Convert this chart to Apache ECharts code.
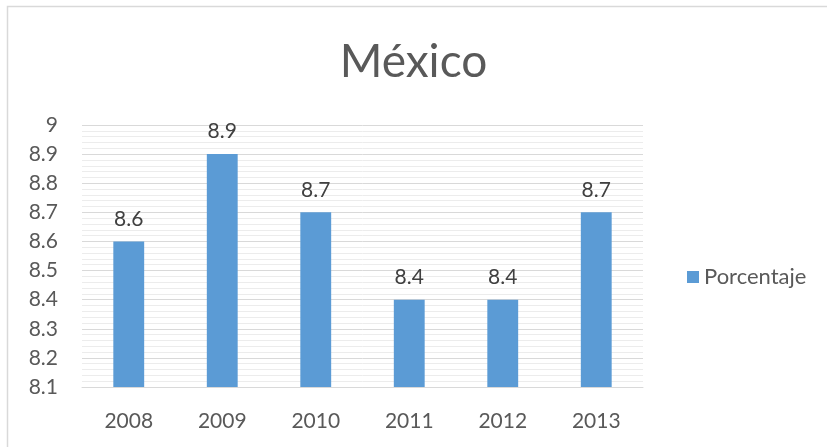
<!DOCTYPE html>
<html>
<head>
<meta charset="utf-8">
<script src="https://cdn.jsdelivr.net/npm/echarts@6/dist/echarts.min.js"></script>
<style>html,body{margin:0;padding:0;background:#fff}#c{width:827px;height:447px}</style>
</head>
<body>
<div id="c"></div>
<script>
const categories = ['2008', '2009', '2010', '2011', '2012', '2013'];
const values = [8.6, 8.9, 8.7, 8.4, 8.4, 8.7];
const seriesName = 'Porcentaje';
const titleText = 'México';

const chart = echarts.init(document.getElementById('c'));
const FONT = 'Lato';
chart.setOption({
  backgroundColor: '#fff',
  animation: false,
  graphic: [{
    type: 'rect', silent: true,
    shape: { x: 7.5, y: 6.5, width: 900, height: 600 },
    style: { fill: 'none', stroke: '#d9d9d9', lineWidth: 1.5 }
  }],
  title: {
    text: titleText, left: 'center', top: 34,
    textStyle: { fontFamily: FONT, fontSize: 46, fontWeight: 'normal', color: '#595959' }
  },
  legend: {
    orient: 'vertical', left: 682, top: 261,
    icon: 'rect', itemWidth: 12, itemHeight: 12, itemGap: 6,
    textStyle: { fontFamily: FONT, fontSize: 22, color: '#595959' },
    data: [seriesName]
  },
  grid: { left: 82, right: 184, top: 125, bottom: 60 },
  xAxis: {
    type: 'category', data: categories,
    axisLine: { lineStyle: { color: '#d9d9d9', width: 1 } },
    axisTick: { show: false },
    axisLabel: { fontFamily: FONT, fontSize: 21, color: '#595959', margin: 24 }
  },
  yAxis: {
    type: 'value', min: 8.1, max: 9, interval: 0.1,
    axisLine: { show: false }, axisTick: { show: false },
    axisLabel: { fontFamily: FONT, fontSize: 21, color: '#595959', margin: 24 },
    splitLine: { lineStyle: { color: '#d9d9d9', width: 1 } },
    minorTick: { show: false, splitNumber: 5 },
    minorSplitLine: { show: true, lineStyle: { color: '#ececec', width: 1 } }
  },
  series: [{
    name: seriesName, type: 'bar', data: values, barWidth: '33%',
    itemStyle: { color: '#5b9bd5' },
    label: { show: true, position: 'top', distance: 12, fontFamily: FONT, fontSize: 21, color: '#404040' }
  }]
});
</script>
</body>
</html>
